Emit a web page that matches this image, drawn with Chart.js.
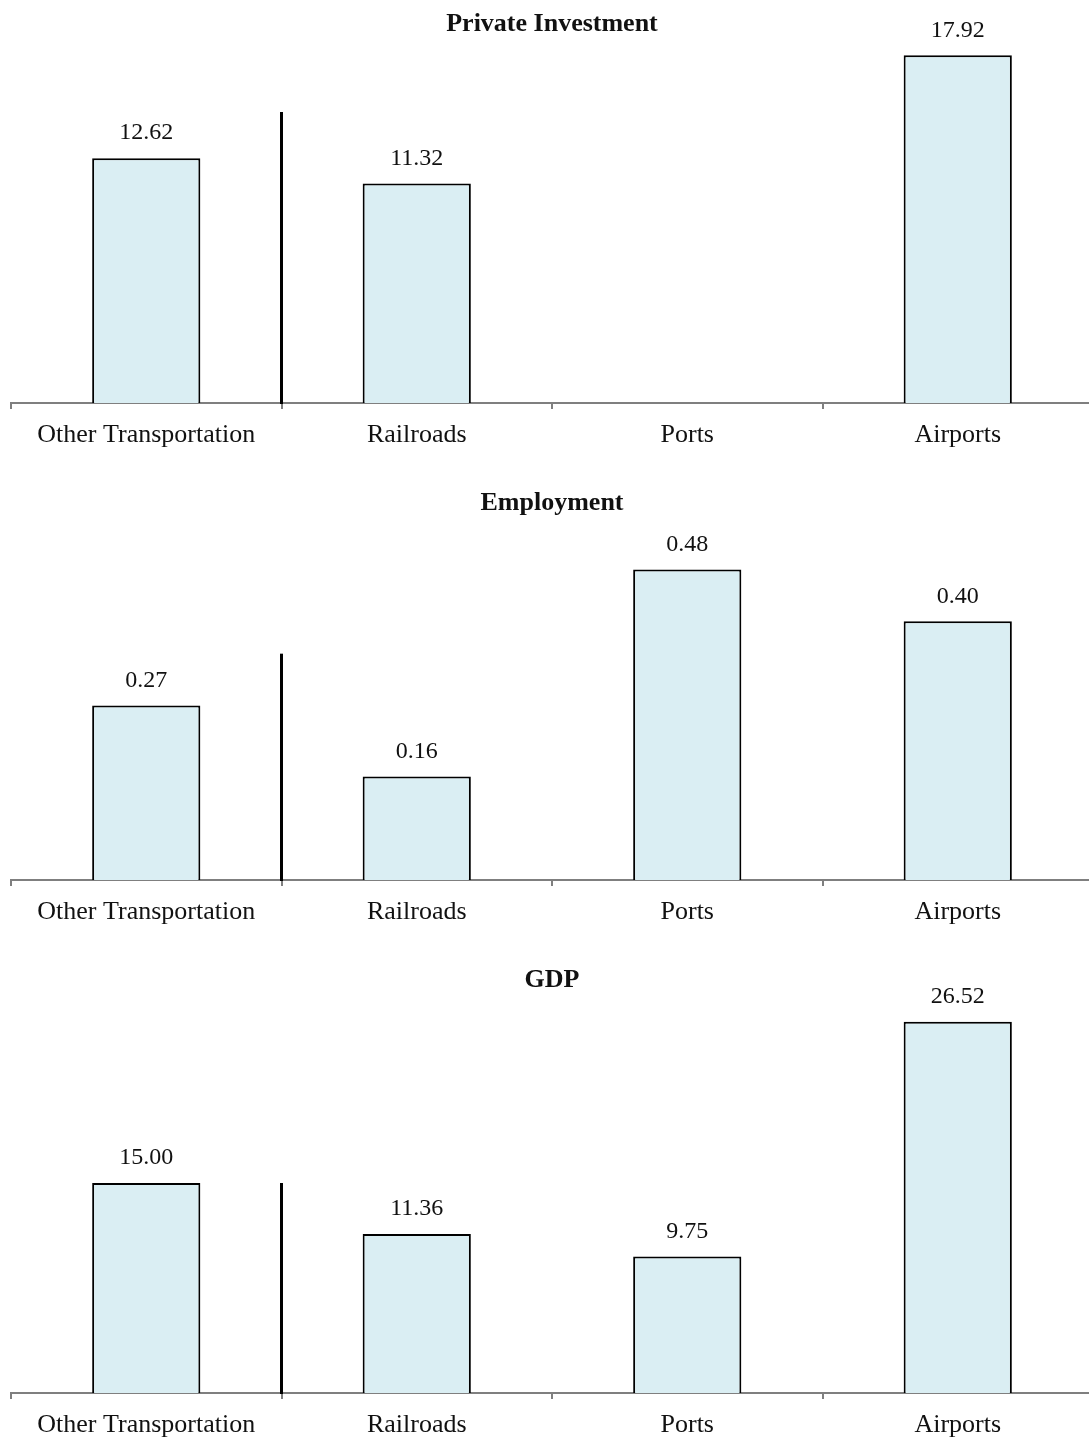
<!DOCTYPE html>
<html>
<head>
<meta charset="utf-8">
<script src="https://cdn.jsdelivr.net/npm/chart.js@4.4.1/dist/chart.umd.min.js"></script>
<style>
  html, body { margin: 0; padding: 0; background: #fff; overflow: hidden; }
  body { width: 1089px; height: 1443px; position: relative; }
  .panel { position: absolute; left: 0; width: 1100px; }
</style>
</head>
<body>
<div class="panel" id="p1" style="top:0;height:453px"><canvas id="c1"></canvas></div>
<div class="panel" id="p2" style="top:460px;height:470px"><canvas id="c2"></canvas></div>
<div class="panel" id="p3" style="top:930px;height:513px"><canvas id="c3"></canvas></div>
<script>
const categories = ["Other Transportation", "Railroads", "Ports", "Airports"];

const investment = [12.62, 11.32, 0, 17.92];
const employment = [0.27, 0.16, 0.48, 0.40];
const gdp = [15.00, 11.36, 9.75, 26.52];

// height of the black divider line after the first bar, in data units
const dividers = [15.0, 0.35, 15.0];
const titles = ["Private Investment", "Employment", "GDP"];
const yMax = [20, 0.6, 30];

const FONT = "'Liberation Serif', 'DejaVu Serif', serif";

// ----- value labels, title, divider -----
const extras = {
  id: "extras",
  afterDatasetsDraw(chart, args, opts) {
    const ctx = chart.ctx;
    const x = chart.scales.x, y = chart.scales.y;
    const meta = chart.getDatasetMeta(0);
    ctx.save();

    // divider between first and second category
    const xd = (x.getPixelForValue(0) + x.getPixelForValue(1)) / 2;
    ctx.strokeStyle = "#000";
    ctx.lineWidth = 3;
    ctx.beginPath();
    ctx.moveTo(xd, y.getPixelForValue(0) + 1);
    ctx.lineTo(xd, y.getPixelForValue(opts.divider));
    ctx.stroke();

    // values above bars
    ctx.fillStyle = "#111";
    ctx.font = "24px " + FONT;
    ctx.textAlign = "center";
    ctx.textBaseline = "middle";
    chart.data.datasets[0].data.forEach((v, i) => {
      if (v === 0) return;
      const bar = meta.data[i];
      ctx.fillText(v.toFixed(2), bar.x, bar.y - 25);
    });

    // title
    ctx.font = "bold 26px " + FONT;
    ctx.fillText(opts.title, (chart.chartArea.left + chart.chartArea.right) / 2, opts.titleY);
    ctx.restore();
  }
};

function makeChart(id, values, idx, padTop, titleY) {
  return new Chart(document.getElementById(id), {
    type: "bar",
    data: {
      labels: categories,
      datasets: [{
        data: values,
        backgroundColor: "#DAEEF3",
        borderColor: "#000",
        borderWidth: 2,
        borderSkipped: "start",
        barPercentage: 0.4,
        categoryPercentage: 1.0
      }]
    },
    options: {
      responsive: true,
      maintainAspectRatio: false,
      animation: false,
      layout: { padding: { top: padTop, left: 11, right: 7, bottom: 0 } },
      plugins: {
        legend: { display: false },
        tooltip: { enabled: false },
        extras: { divider: dividers[idx], title: titles[idx], titleY: titleY }
      },
      scales: {
        x: {
          afterFit(scale) { scale.height = 50; },
          border: { display: true, color: "#7f7f7f", width: 2 },
          grid: { drawOnChartArea: false, drawTicks: true, tickLength: 6, color: "#7f7f7f", lineWidth: 2 },
          ticks: { color: "#111", font: { family: FONT, size: 26 }, padding: 11, maxRotation: 0 }
        },
        y: { display: false, min: 0, max: yMax[idx] }
      }
    },
    plugins: [extras]
  });
}

makeChart("c1", investment, 0, 15, 24);
makeChart("c2", employment, 1, 32, 43);
makeChart("c3", gdp, 2, 43, 50);
</script>
</body>
</html>
